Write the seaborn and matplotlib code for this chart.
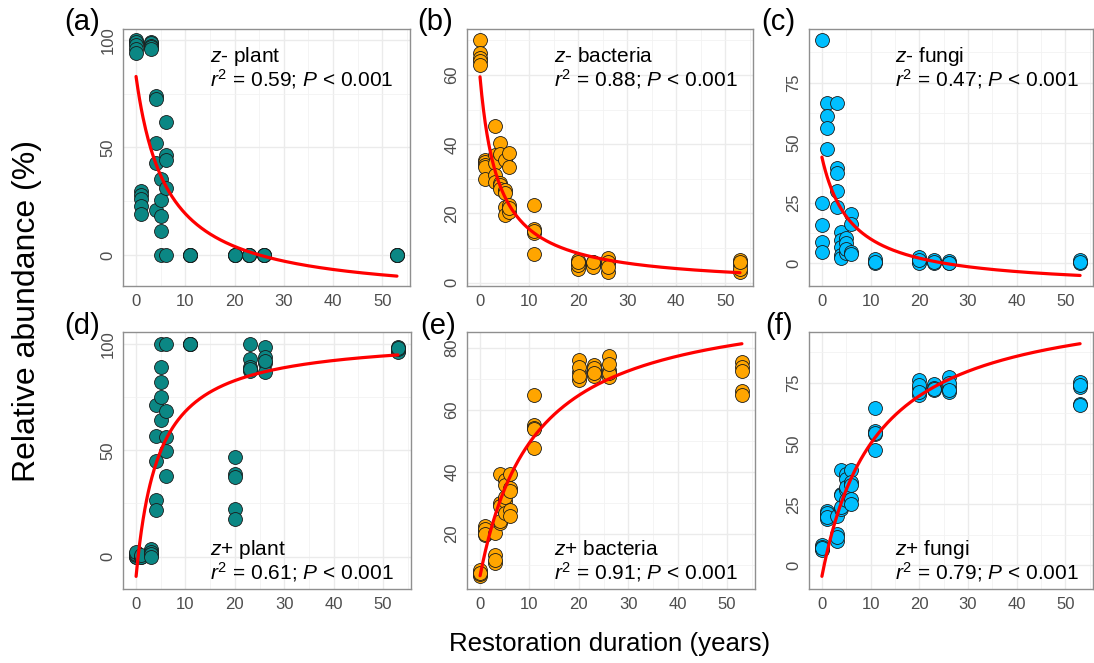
import numpy as np
import pandas as pd
import matplotlib
matplotlib.use("Agg")
import matplotlib.pyplot as plt
import matplotlib.transforms as mtransforms
import seaborn as sns

# Sampling sites: years since restoration
site_years = [0, 1, 3, 4, 5, 6, 11, 20, 23, 26, 53]

# Relative abundance (%) per site, one inner list of replicates per site
plant_minus = [[100, 99, 97.5, 96, 94], [30, 28, 26, 23, 19], [99, 98.5, 97, 96.5, 96],
               [74, 72.5, 52, 43, 21], [35.5, 25.5, 18, 11, 0], [62, 46.5, 44, 31, 0],
               [0, 0, 0, 0, 0], [0, 0, 0, 0, 0], [0, 0, 0, 0, 0], [0, 0, 0, 0, 0], [0, 0, 0, 0, 0]]
bacteria_minus = [[70, 66.5, 65, 64, 63], [35.5, 35, 34, 33.5, 30], [45.3, 37, 34.5, 31, 29],
                  [40.5, 37.2, 28.9, 28.2, 27], [35.5, 26.8, 25.8, 22, 19.6], [37.4, 33.5, 22.4, 20.5, 21.5],
                  [22.4, 15.4, 14.3, 14.8, 8.2], [6.6, 5.6, 4.1, 5, 6], [6.1, 5.1, 5.5, 4.5, 6],
                  [7, 5.6, 3.2, 6, 4.5], [6.7, 5.1, 3.2, 4, 6]]
fungi_minus = [[92.7, 24.9, 15.9, 9, 4.8], [66.7, 61.1, 56, 47.4], [66.4, 39.4, 37.3, 30.2, 23.5],
               [13.1, 9.7, 6.9, 3.5, 2.1], [10.4, 8.6, 4.1, 6], [20.3, 16.3, 4.8, 3.9],
               [1.7, 0, 0.5], [2.5, 0.7, 0, 1.5], [1.4, 0, 0.5], [1, 0, 0.3], [1.4, 0, 0.5]]
plant_plus = [[0, 0, 0.5, 1, 2], [0, 0, 0.5], [3.6, 2, 0.5, 1, 0],
              [71.3, 56.9, 44.8, 26.8, 21.9], [100, 89, 82.3, 74.9, 64.4], [100, 68.7, 56.1, 49.8, 38.1],
              [100, 100, 100, 100, 100], [46.7, 38.9, 37.3, 22.4, 17.7], [100, 92.9, 89, 87.5, 88.5],
              [98.7, 94, 90.9, 87, 92], [98.7, 96.9, 96.4, 97.5, 98]]
bacteria_plus = [[8.3, 7.2, 6.5, 7, 7.5], [22.7, 20.8, 19.7, 21.5, 20], [13.2, 10.5, 20.4, 11.5],
                 [39.4, 30, 23.5, 29, 24], [37.5, 35.9, 30.5, 26.7, 32], [39.5, 34.8, 27.8, 25.8, 34],
                 [64.8, 55.1, 54.3, 47.6, 54], [76, 72.4, 69.7, 74, 71], [74.7, 72.7, 71.1, 73.5, 72],
                 [77.3, 73, 70.6, 72, 75], [75.5, 73.8, 72.5, 66.2, 64.8]]
fungi_plus = [[8.2, 6.8, 6.2, 7.5, 7], [22.3, 20.5, 19.2, 21.5, 20], [13, 10, 20.1, 11.5],
              [39.3, 29.4, 23.3, 29, 24], [37.6, 35.6, 30.8, 26.7, 32], [39.3, 34.2, 27.4, 25.3, 33],
              [64.7, 55, 54, 47.5, 54.5], [76.3, 72.8, 70, 74, 71], [74.6, 71.8, 73, 72.5],
              [77.3, 73.2, 71.1, 75, 72], [75.2, 73.2, 66.3, 65.7, 74]]

# Fitted curves y = a + b / (x + c)
fit_a = [-20.8, -1.16, -10.7, 103.9, 97.1, 111.3]
fit_b = [652, 229.9, 335.6, -517.6, -1005.8, -1305]
fit_c = [6.28, 3.79, 6.13, 4.57, 11.1, 11.27]

panel_tags = ["(a)", "(b)", "(c)", "(d)", "(e)", "(f)"]
group_names = ["z- plant", "z- bacteria", "z- fungi", "z+ plant", "z+ bacteria", "z+ fungi"]
r2_values = ["0.59", "0.88", "0.47", "0.61", "0.91", "0.79"]

teal, orange, sky = "#0B8784", "#FFA500", "#00BFFF"
panel_colors = [teal, orange, sky, teal, orange, sky]
panel_data = [plant_minus, bacteria_minus, fungi_minus, plant_plus, bacteria_plus, fungi_plus]

y_limits = [(-14.4, 105.1), (-0.95, 73.3), (-9.4, 97.2), (-15.3, 105.7), (2.2, 85.2), (-9.7, 95.8)]
y_major = [[0, 50, 100], [0, 20, 40, 60], [0, 25, 50, 75], [0, 50, 100], [20, 40, 60, 80], [0, 25, 50, 75]]
y_minor = [[25, 75], [10, 30, 50, 70], [12.5, 37.5, 62.5, 87.5], [25, 75], [10, 30, 50, 70],
           [12.5, 37.5, 62.5, 87.5]]

sns.set_style("white")
plt.rcParams["font.family"] = ["Liberation Sans", "DejaVu Sans"]
plt.rcParams["text.color"] = "black"
plt.rcParams["mathtext.fontset"] = "custom"
plt.rcParams["mathtext.rm"] = "Liberation Sans"
plt.rcParams["mathtext.it"] = "Liberation Sans:italic"

W, H = 1094, 663
fig = plt.figure(figsize=(W / 100, H / 100), dpi=100)

# panel boxes in pixels: left, right, top, bottom
boxes = [(123, 410, 29, 286), (467, 753, 29, 286), (809, 1093, 29, 286),
         (123, 411, 332, 589), (467, 755, 332, 589), (809, 1093, 332, 589)]
tag_pos = [(100, 22), (453, 22), (795, 22), (100, 326), (456, 326), (793, 326)]

for i in range(6):
    l, r, t, b = boxes[i]
    ax = fig.add_axes([l / W, 1 - b / H, (r - l) / W, (b - t) / H])
    rows = [(yr, v) for yr, vals in zip(site_years, panel_data[i]) for v in vals]
    df = pd.DataFrame(rows, columns=["years", "abundance"])

    ax.set_axisbelow(True)
    ax.set_xlim(-2.65, 55.65)
    ax.set_ylim(*y_limits[i])
    ax.set_xticks([0, 10, 20, 30, 40, 50])
    ax.set_xticks([5, 15, 25, 35, 45, 55], minor=True)
    ax.set_yticks(y_major[i])
    ax.set_yticks(y_minor[i], minor=True)
    ax.grid(which="major", color="#EBEBEB", lw=1.0)
    ax.grid(which="minor", color="#F2F2F2", lw=0.6)

    sns.scatterplot(data=df, x="years", y="abundance", ax=ax, s=100, color=panel_colors[i],
                    edgecolor="#1A1A1A", linewidth=0.6, zorder=3, legend=False)

    xs = np.linspace(0, 53, 300)
    curve = pd.DataFrame({"years": xs, "fit": fit_a[i] + fit_b[i] / (xs + fit_c[i])})
    sns.lineplot(data=curve, x="years", y="fit", ax=ax, color="red", lw=2.3, zorder=4)

    ax.set_xlabel("")
    ax.set_ylabel("")
    for sp in ax.spines.values():
        sp.set_color("#8F8F8F")
        sp.set_linewidth(1.0)
    ax.tick_params(which="major", direction="out", length=3.5, width=0.8, color="#8F8F8F",
                   labelsize=12, labelcolor="#4D4D4D", pad=2)
    ax.tick_params(which="minor", length=0)
    for lab in ax.get_yticklabels():
        lab.set_rotation(90)
        lab.set_va("center")
        lab.set_ha("right")

    trans = mtransforms.blended_transform_factory(ax.transData, ax.transAxes)
    name_sign, name_rest = group_names[i].split(" ", 1)
    line1 = r"$\mathit{z}$" + name_sign[1:] + " " + name_rest
    line2 = r"$\mathit{r}^2$ = " + r2_values[i] + r"; $\mathit{P}$ < 0.001"
    if i < 3:
        y1, y2 = 0.870, 0.778
    else:
        y1, y2 = 0.132, 0.038
    ax.text(15, y1, line1, transform=trans, fontsize=15, ha="left", va="baseline", color="black")
    ax.text(15, y2, line2, transform=trans, fontsize=15, ha="left", va="baseline", color="black")

    tx, ty = tag_pos[i]
    fig.text(tx / W, 1 - ty / H, panel_tags[i], fontsize=21, ha="right", va="center", color="black")

fig.text(27 / W, 1 - 311 / H, "Relative abundance (%)", rotation=90, fontsize=23,
         ha="center", va="center", color="black")
fig.text(610 / W, 1 - 650.7 / H, "Restoration duration (years)", fontsize=18.6,
         ha="center", va="baseline", color="black")

fig.savefig("out.png", dpi=100)
